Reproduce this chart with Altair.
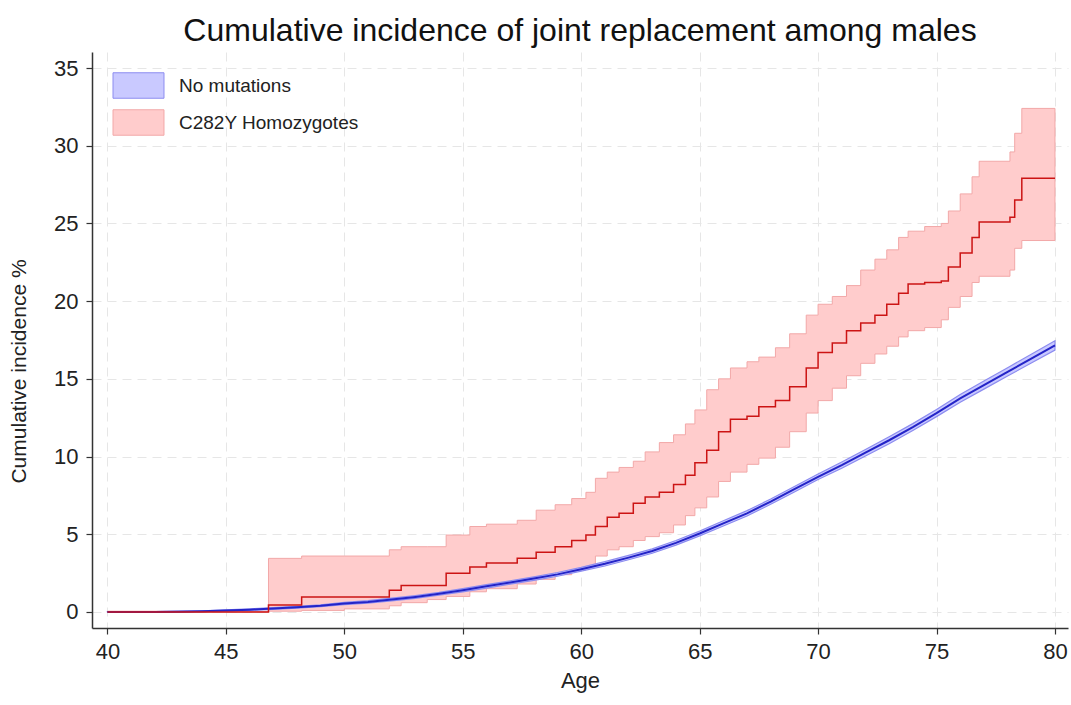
import altair as alt
import pandas as pd

# ---- data ----
groups = ["No mutations", "C282Y Homozygotes"]

red_age = [40.0, 46.8, 48.2, 50.0, 51.9, 52.4, 53.5, 54.3, 55.3, 56.0, 57.3, 58.1, 58.9, 59.6, 60.2,
           60.6, 61.1, 61.6, 62.2, 62.7, 63.3, 63.9, 64.4, 64.8, 65.3, 65.8, 66.3, 67.0, 67.5, 68.2,
           68.8, 69.5, 70.0, 70.6, 71.2, 71.8, 72.4, 72.9, 73.4, 73.8, 74.5, 75.2, 75.5, 76.0, 76.5,
           76.8, 78.1, 78.3, 78.6, 80.0]
red_est = [0.0, 0.45, 0.96, 0.96, 1.4, 1.7, 1.7, 2.5, 2.9, 3.15, 3.45, 3.85, 4.2, 4.6, 4.95,
           5.5, 6.1, 6.35, 7.0, 7.4, 7.7, 8.2, 8.8, 9.6, 10.4, 11.6, 12.4, 12.6, 13.2, 13.6,
           14.5, 15.7, 16.7, 17.3, 18.1, 18.6, 19.1, 19.8, 20.5, 21.1, 21.2, 21.3, 22.2, 23.1, 24.1,
           25.1, 25.4, 26.5, 27.9, 27.9]
red_lo = [0.0, 0.05, 0.1, 0.2, 0.4, 0.6, 0.8, 1.0, 1.3, 1.5, 1.8, 2.1, 2.4, 2.7, 2.95,
          3.6, 4.0, 4.2, 4.6, 4.85, 5.1, 5.6, 6.2, 6.7, 7.4, 8.4, 9.0, 9.5, 9.9, 10.6,
          11.6, 12.8, 13.6, 14.4, 15.2, 16.0, 16.6, 17.1, 17.7, 18.1, 18.3, 18.8, 19.6, 20.3, 21.2,
          21.6, 22.0, 23.4, 23.9, 23.9]
red_hi = [0.05, 3.45, 3.6, 3.6, 4.0, 4.2, 4.2, 4.95, 5.5, 5.65, 5.9, 6.55, 6.9, 7.3, 7.7,
          8.6, 9.0, 9.3, 9.7, 10.3, 10.9, 11.4, 12.1, 13.0, 14.3, 15.0, 15.7, 16.1, 16.4, 17.0,
          17.9, 19.1, 19.8, 20.3, 21.0, 22.0, 22.7, 23.3, 24.1, 24.5, 24.8, 25.0, 25.8, 26.9, 28.0,
          29.0, 29.6, 30.8, 32.4, 32.4]

blue_age = list(range(40, 81))
blue_est = [0.0, 0.0, 0.0, 0.02, 0.05, 0.1, 0.15, 0.22, 0.3, 0.4, 0.55, 0.65, 0.8, 0.97, 1.17,
            1.4, 1.65, 1.9, 2.15, 2.42, 2.75, 3.1, 3.5, 3.92, 4.45, 5.05, 5.7, 6.35, 7.1, 7.9,
            8.7, 9.45, 10.25, 11.05, 11.9, 12.8, 13.75, 14.6, 15.45, 16.3, 17.15]
blue_lo = [0.0, 0.0, 0.0, 0.0, 0.03, 0.06, 0.1, 0.16, 0.24, 0.34, 0.48, 0.57, 0.71, 0.88, 1.08,
           1.3, 1.54, 1.79, 2.04, 2.3, 2.63, 2.96, 3.36, 3.78, 4.3, 4.9, 5.53, 6.18, 6.93, 7.72,
           8.52, 9.25, 10.04, 10.83, 11.68, 12.57, 13.5, 14.34, 15.18, 16.02, 16.85]
blue_hi = [0.02, 0.02, 0.03, 0.05, 0.08, 0.14, 0.2, 0.28, 0.36, 0.46, 0.62, 0.73, 0.89, 1.06, 1.26,
           1.5, 1.76, 2.01, 2.26, 2.54, 2.87, 3.24, 3.64, 4.06, 4.6, 5.2, 5.87, 6.52, 7.27, 8.08,
           8.88, 9.65, 10.46, 11.27, 12.12, 13.03, 14.0, 14.86, 15.72, 16.58, 17.45]

x_ticks = [40, 45, 50, 55, 60, 65, 70, 75, 80]
y_ticks = [0, 5, 10, 15, 20, 25, 30, 35]

red_df = pd.DataFrame({"age": red_age, "est": red_est, "lo": red_lo, "hi": red_hi, "group": groups[1]})
blue_df = pd.DataFrame({"age": blue_age, "est": blue_est, "lo": blue_lo, "hi": blue_hi, "group": groups[0]})

FONT = "Liberation Sans"

x_enc = alt.X("age:Q",
              scale=alt.Scale(domain=[39.35, 80.55], nice=False, zero=False),
              axis=alt.Axis(values=x_ticks, title="Age", format="d"))
y_scale = alt.Scale(domain=[-1.03, 36.03], nice=False, zero=False)
y_axis = alt.Axis(values=y_ticks, title="Cumulative incidence %", format="d", titleY=319)

legend = alt.Legend(title=None, orient="none", legendX=33, legendY=20,
                    symbolType="M-2,-1H2V1H-2Z", symbolSize=650, symbolStrokeWidth=1,
                    labelFontSize=19, labelFont=FONT, labelColor="#222", labelLimit=400,
                    labelOffset=27, rowPadding=6, padding=0, symbolOpacity=1)

fill_scale = alt.Scale(domain=groups, range=["#c9c9ff", "#ffcccc"])
stroke_scale = alt.Scale(domain=groups, range=["#8c8cf0", "#f2a8a8"])

red_band = alt.Chart(red_df).mark_area(interpolate="step-after", strokeWidth=1, opacity=1).encode(
    x=x_enc,
    y=alt.Y("lo:Q", scale=y_scale, axis=y_axis),
    y2="hi:Q",
    fill=alt.Fill("group:N", scale=fill_scale, legend=legend),
    stroke=alt.Stroke("group:N", scale=stroke_scale, legend=legend),
)

blue_band = alt.Chart(blue_df).mark_area(interpolate="linear", strokeWidth=1.2, opacity=1).encode(
    x=x_enc,
    y=alt.Y("lo:Q", scale=y_scale, axis=y_axis),
    y2="hi:Q",
    fill=alt.Fill("group:N", scale=fill_scale, legend=legend),
    stroke=alt.Stroke("group:N", scale=stroke_scale, legend=legend),
)

blue_line = alt.Chart(blue_df).mark_line(interpolate="linear", strokeWidth=2, color="#2424c8").encode(
    x=x_enc,
    y=alt.Y("est:Q", scale=y_scale, axis=y_axis),
)

red_line = alt.Chart(red_df).mark_line(interpolate="step-after", strokeWidth=1.5, color="#cc1414").encode(
    x=x_enc,
    y=alt.Y("est:Q", scale=y_scale, axis=y_axis),
)

chart = alt.layer(red_band, blue_band, blue_line, red_line).properties(
    width=976,
    height=576,
    autosize=alt.AutoSizeParams(type="none"),
    padding={"left": 92, "top": 52, "right": 3, "bottom": 77},
    title=alt.TitleParams("Cumulative incidence of joint replacement among males",
                          fontSize=32, font=FONT, fontWeight="normal", color="#111",
                          anchor="middle", baseline="bottom", offset=8, dy=36),
    background="white",
).configure_view(
    strokeWidth=0
).configure_axis(
    labelFont=FONT, titleFont=FONT, labelFontSize=22, titleFontSize=22,
    labelColor="#222", titleColor="#222", titleFontWeight="normal",
    domainColor="#333", domainWidth=1.5, tickColor="#333", tickWidth=1.2, tickSize=6,
    grid=True, gridColor="#e6e6e6", gridDash=[9, 6], gridWidth=1,
    labelPadding=7,
).configure_axisY(
    titleFontSize=21, titlePadding=24, labelPadding=8
).configure_axisX(
    titlePadding=8
)

chart.save("out.html", embed_options={"renderer": "svg", "actions": False})
